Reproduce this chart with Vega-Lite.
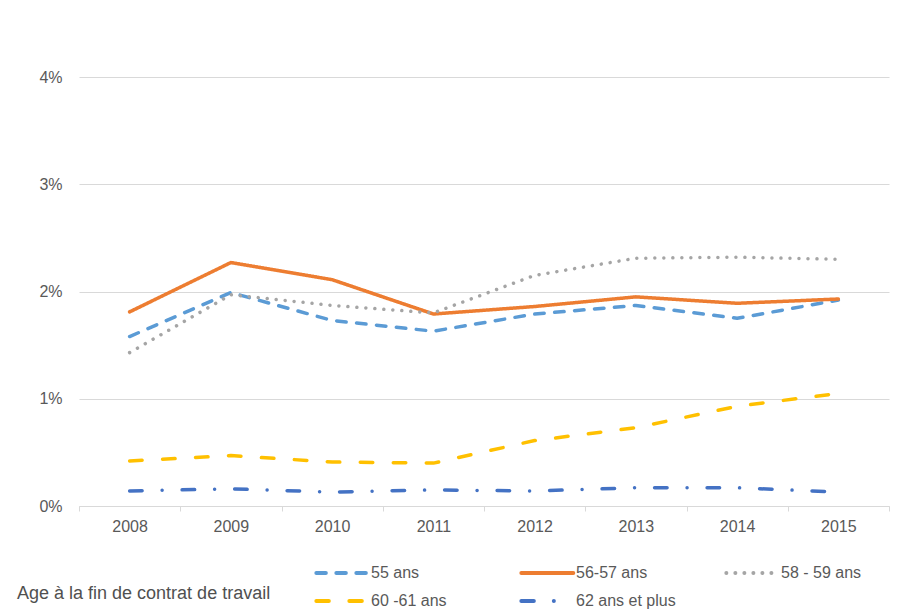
{
  "$schema": "https://vega.github.io/schema/vega-lite/v6.json",
  "width": 810,
  "height": 429,
  "autosize": {"type": "none"},
  "padding": {"left": 79, "top": 77, "right": 14, "bottom": 108},
  "background": "white",
  "config": {
    "view": {"stroke": null},
    "font": "Liberation Sans",
    "axis": {"labelFont": "Liberation Sans", "labelFontSize": 16, "labelColor": "#595959", "title": null},
    "legend": {
      "orient": "none",
      "legendX": -62,
      "legendY": 485,
      "direction": "horizontal",
      "columns": 3,
      "gridAlign": "all",
      "columnPadding": 42,
      "rowPadding": 9,
      "symbolType": "M-1,0H5",
      "symbolSize": 300,
      "symbolStrokeWidth": 4,
      "labelOffset": 35,
      "labelFont": "Liberation Sans",
      "labelFontSize": 16,
      "labelColor": "#595959",
      "titleOrient": "left",
      "titleAngle": 0,
      "titleAnchor": "end",
      "titleBaseline": "bottom",
      "titleFont": "Liberation Sans",
      "titleFontSize": 18,
      "titleFontWeight": "normal",
      "titleColor": "#505050",
      "titlePadding": 43,
      "titleLimit": 400
    }
  },
  "data": {
    "values": [
      {"year": 2008, "series": "55 ans", "value": 0.0158},
      {"year": 2009, "series": "55 ans", "value": 0.0199},
      {"year": 2010, "series": "55 ans", "value": 0.0173},
      {"year": 2011, "series": "55 ans", "value": 0.0163},
      {"year": 2012, "series": "55 ans", "value": 0.0179},
      {"year": 2013, "series": "55 ans", "value": 0.0187},
      {"year": 2014, "series": "55 ans", "value": 0.0175},
      {"year": 2015, "series": "55 ans", "value": 0.0192},
      {"year": 2008, "series": "56-57 ans", "value": 0.0181},
      {"year": 2009, "series": "56-57 ans", "value": 0.0227},
      {"year": 2010, "series": "56-57 ans", "value": 0.0211},
      {"year": 2011, "series": "56-57 ans", "value": 0.0179},
      {"year": 2012, "series": "56-57 ans", "value": 0.0186},
      {"year": 2013, "series": "56-57 ans", "value": 0.0195},
      {"year": 2014, "series": "56-57 ans", "value": 0.0189},
      {"year": 2015, "series": "56-57 ans", "value": 0.0193},
      {"year": 2008, "series": "58 - 59 ans", "value": 0.0143},
      {"year": 2009, "series": "58 - 59 ans", "value": 0.0197},
      {"year": 2010, "series": "58 - 59 ans", "value": 0.0187},
      {"year": 2011, "series": "58 - 59 ans", "value": 0.0180},
      {"year": 2012, "series": "58 - 59 ans", "value": 0.0215},
      {"year": 2013, "series": "58 - 59 ans", "value": 0.0231},
      {"year": 2014, "series": "58 - 59 ans", "value": 0.0232},
      {"year": 2015, "series": "58 - 59 ans", "value": 0.0230},
      {"year": 2008, "series": "60 -61 ans", "value": 0.0042},
      {"year": 2009, "series": "60 -61 ans", "value": 0.0047},
      {"year": 2010, "series": "60 -61 ans", "value": 0.0041},
      {"year": 2011, "series": "60 -61 ans", "value": 0.0040},
      {"year": 2012, "series": "60 -61 ans", "value": 0.0061},
      {"year": 2013, "series": "60 -61 ans", "value": 0.0073},
      {"year": 2014, "series": "60 -61 ans", "value": 0.0093},
      {"year": 2015, "series": "60 -61 ans", "value": 0.0105},
      {"year": 2008, "series": "62 ans et plus", "value": 0.0014},
      {"year": 2009, "series": "62 ans et plus", "value": 0.0016},
      {"year": 2010, "series": "62 ans et plus", "value": 0.0013},
      {"year": 2011, "series": "62 ans et plus", "value": 0.0015},
      {"year": 2012, "series": "62 ans et plus", "value": 0.0014},
      {"year": 2013, "series": "62 ans et plus", "value": 0.0017},
      {"year": 2014, "series": "62 ans et plus", "value": 0.0017},
      {"year": 2015, "series": "62 ans et plus", "value": 0.0013}
    ]
  },
  "mark": {"type": "line", "strokeWidth": 3.5, "strokeCap": "round", "strokeJoin": "round"},
  "encoding": {
    "x": {
      "field": "year",
      "type": "quantitative",
      "scale": {"domain": [2007.5, 2015.5], "nice": false, "zero": false},
      "axis": {
        "values": [2007.5, 2008.5, 2009.5, 2010.5, 2011.5, 2012.5, 2013.5, 2014.5, 2015.5],
        "labelExpr": "datum.value < 2015 ? format(datum.value + 0.5, 'd') : ''",
        "labelOffset": 50.6,
        "grid": false,
        "domain": true,
        "domainColor": "#D9D9D9",
        "domainWidth": 1,
        "ticks": true,
        "tickColor": "#D9D9D9",
        "tickSize": 5,
        "labelPadding": 7,
        "labelFlush": false,
        "labelOverlap": false
      }
    },
    "y": {
      "field": "value",
      "type": "quantitative",
      "scale": {"domain": [0, 0.04], "nice": false},
      "axis": {
        "values": [0, 0.01, 0.02, 0.03, 0.04],
        "format": ".0%",
        "grid": true,
        "gridColor": "#D9D9D9",
        "gridWidth": 1,
        "domain": false,
        "ticks": false,
        "tickSize": 0,
        "labelPadding": 17
      }
    },
    "color": {
      "field": "series",
      "type": "nominal",
      "scale": {
        "domain": ["55 ans", "56-57 ans", "58 - 59 ans", "60 -61 ans", "62 ans et plus"],
        "range": ["#5B9BD5", "#ED7D31", "#A5A5A5", "#FFC000", "#4472C4"]
      },
      "legend": {
        "title": "Age à la fin de contrat de travail",
        "encode": {
          "symbols": {"update": {"strokeCap": {"value": "round"}}},
          "title": {"update": {"dy": {"value": -6}}}
        }
      }
    },
    "strokeDash": {
      "field": "series",
      "type": "nominal",
      "scale": {
        "domain": ["55 ans", "56-57 ans", "58 - 59 ans", "60 -61 ans", "62 ans et plus"],
        "range": [[9.5, 10.5], [1, 0], [0.01, 9], [12.5, 20.5], [12.5, 20, 0.01, 20]]
      },
      "legend": {
        "title": "Age à la fin de contrat de travail",
        "encode": {
          "symbols": {"update": {"strokeCap": {"value": "round"}}},
          "title": {"update": {"dy": {"value": -6}}}
        }
      }
    }
  }
}
